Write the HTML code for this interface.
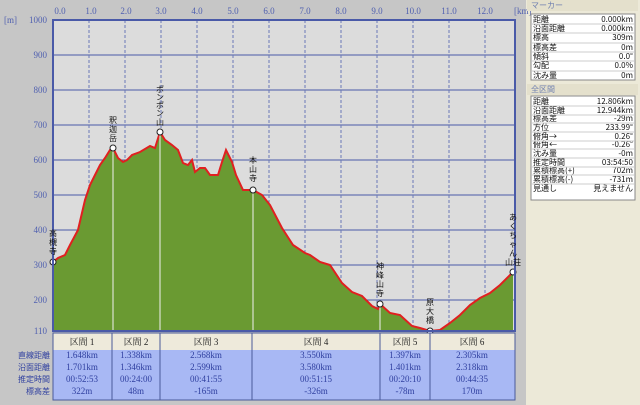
<!DOCTYPE html>
<html><head><meta charset="utf-8"><style>
body{margin:0;width:640px;height:405px;overflow:hidden;background:#c6c6c6;font-family:"Liberation Serif","Noto Serif CJK SC",serif;}
</style></head><body>
<svg width="640" height="405" xmlns="http://www.w3.org/2000/svg" style="position:absolute;left:0;top:0">
<rect x="0" y="0" width="640" height="405" fill="#c6c6c6"/>
<rect x="526" y="0" width="114" height="405" fill="#ece9d8"/>
<rect x="53" y="20" width="462" height="311" fill="#dcdcdc"/>
<g stroke="#4a5aa8" stroke-width="1">
<line x1="53" y1="55" x2="515" y2="55"/><line x1="53" y1="90" x2="515" y2="90"/><line x1="53" y1="125" x2="515" y2="125"/><line x1="53" y1="160" x2="515" y2="160"/><line x1="53" y1="195" x2="515" y2="195"/><line x1="53" y1="230" x2="515" y2="230"/><line x1="53" y1="265" x2="515" y2="265"/><line x1="53" y1="300" x2="515" y2="300"/>
</g>
<g stroke="#6a78b8" stroke-width="1" stroke-dasharray="3,2">
<line x1="89" y1="20" x2="89" y2="331"/><line x1="125" y1="20" x2="125" y2="331"/><line x1="161" y1="20" x2="161" y2="331"/><line x1="197" y1="20" x2="197" y2="331"/><line x1="233" y1="20" x2="233" y2="331"/><line x1="269" y1="20" x2="269" y2="331"/><line x1="305" y1="20" x2="305" y2="331"/><line x1="341" y1="20" x2="341" y2="331"/><line x1="377" y1="20" x2="377" y2="331"/><line x1="413" y1="20" x2="413" y2="331"/><line x1="449" y1="20" x2="449" y2="331"/><line x1="485" y1="20" x2="485" y2="331"/>
</g>
<polygon fill="#6a9a32" points="53,262 58,258 65,255 70,245 78,230 85,200 90,185 95,175 100,165 105,158 110,150 113,148 118,158 123,162 127,160 132,155 140,152 150,146 155,148 160,132 165,140 172,145 178,150 183,163 188,165 192,160 195,172 200,168 205,168 210,175 218,175 222,162 226,150 232,162 236,175 243,190 253,190 262,195 270,205 282,228 293,245 305,253 310,255 320,262 330,265 342,283 352,292 362,296 372,306 378,309 380,304 390,313 400,315 412,326 420,328 430,331 440,330 450,323 460,315 470,305 480,298 490,293 500,285 513,272 513,331 53,331"/>
<polyline fill="none" stroke="#e02020" stroke-width="2" points="53,262 58,258 65,255 70,245 78,230 85,200 90,185 95,175 100,165 105,158 110,150 113,148 118,158 123,162 127,160 132,155 140,152 150,146 155,148 160,132 165,140 172,145 178,150 183,163 188,165 192,160 195,172 200,168 205,168 210,175 218,175 222,162 226,150 232,162 236,175 243,190 253,190 262,195 270,205 282,228 293,245 305,253 310,255 320,262 330,265 342,283 352,292 362,296 372,306 378,309 380,304 390,313 400,315 412,326 420,328 430,331 440,330 450,323 460,315 470,305 480,298 490,293 500,285 513,272"/>
<g stroke="#f0f0f0" stroke-width="1">
<line x1="113" y1="148" x2="113" y2="331"/><line x1="160" y1="132" x2="160" y2="331"/><line x1="253" y1="190" x2="253" y2="331"/><line x1="380" y1="304" x2="380" y2="331"/>
</g>
<g fill="#fff" stroke="#222" stroke-width="1">
<circle cx="53" cy="262" r="3"/><circle cx="113" cy="148" r="3"/><circle cx="160" cy="132" r="3"/><circle cx="253" cy="190" r="3"/><circle cx="380" cy="304" r="3"/><circle cx="430" cy="331" r="3"/><circle cx="513" cy="272" r="3"/>
</g>
<rect x="53" y="20" width="462" height="311" fill="none" stroke="#4a5aa8" stroke-width="2"/>
<g font-family="'Noto Sans CJK JP',sans-serif" font-size="8" fill="#111" text-anchor="middle">
<text x="53" y="236">高</text><text x="53" y="245">槻</text><text x="53" y="254">寺</text>
<text x="113" y="123">釈</text><text x="113" y="132">迦</text><text x="113" y="141">岳</text>
<text x="160" y="92">ポ</text><text x="160" y="100">ン</text><text x="160" y="108">ポ</text><text x="160" y="116">ン</text><text x="160" y="125">山</text>
<text x="253" y="163">本</text><text x="253" y="172">山</text><text x="253" y="181">寺</text>
<text x="380" y="269">神</text><text x="380" y="278">峰</text><text x="380" y="287">山</text><text x="380" y="296">寺</text>
<text x="430" y="305">原</text><text x="430" y="314">大</text><text x="430" y="323">橋</text>
<text x="513" y="220">あ</text><text x="513" y="229">く</text><text x="513" y="238">ち</text><text x="513" y="247">ゃ</text><text x="513" y="256">ん</text><text x="513" y="265">山荘</text>
</g>
<g font-size="9" fill="#5060b0" text-anchor="end">
<text x="47" y="23">1000</text><text x="47" y="58">900</text><text x="47" y="93">800</text><text x="47" y="128">700</text><text x="47" y="163">600</text><text x="47" y="198">500</text><text x="47" y="233">400</text><text x="47" y="268">300</text><text x="47" y="303">200</text><text x="47" y="334">110</text>
</g>
<text x="4" y="23" font-size="9" fill="#5060b0">[m]</text>
<text x="514" y="14" font-size="9" fill="#5060b0">[km]</text>
<g font-size="9" fill="#5060b0" text-anchor="middle">
<text x="60" y="14">0.0</text><text x="91" y="14">1.0</text><text x="126" y="14">2.0</text><text x="161" y="14">3.0</text><text x="197" y="14">4.0</text><text x="233" y="14">5.0</text><text x="269" y="14">6.0</text><text x="305" y="14">7.0</text><text x="341" y="14">8.0</text><text x="377" y="14">9.0</text><text x="413" y="14">10.0</text><text x="449" y="14">11.0</text><text x="485" y="14">12.0</text>
</g>
<rect x="53" y="333" width="462" height="17" fill="#eeeadb"/>
<rect x="53" y="350" width="462" height="50" fill="#a8b8f4"/>
<rect x="53" y="333" width="462" height="67" fill="none" stroke="#4a5a9a" stroke-width="1"/>
<g stroke="#4a5a9a" stroke-width="1">
<line x1="112" y1="333" x2="112" y2="400"/><line x1="160" y1="333" x2="160" y2="400"/><line x1="252" y1="333" x2="252" y2="400"/><line x1="380" y1="333" x2="380" y2="400"/><line x1="430" y1="333" x2="430" y2="400"/>
</g>
<g font-family="'Liberation Serif','Noto Serif CJK JP',serif" font-size="9" fill="#222" text-anchor="middle">
<text x="82" y="345">区間 1</text><text x="136" y="345">区間 2</text><text x="206" y="345">区間 3</text><text x="316" y="345">区間 4</text><text x="405" y="345">区間 5</text><text x="472" y="345">区間 6</text>
</g>
<g font-size="9" fill="#3040a0" text-anchor="middle">
<text x="82" y="358">1.648km</text><text x="82" y="370">1.701km</text><text x="82" y="382">00:52:53</text><text x="82" y="394">322m</text>
<text x="136" y="358">1.338km</text><text x="136" y="370">1.346km</text><text x="136" y="382">00:24:00</text><text x="136" y="394">48m</text>
<text x="206" y="358">2.568km</text><text x="206" y="370">2.599km</text><text x="206" y="382">00:41:55</text><text x="206" y="394">-165m</text>
<text x="316" y="358">3.550km</text><text x="316" y="370">3.580km</text><text x="316" y="382">00:51:15</text><text x="316" y="394">-326m</text>
<text x="405" y="358">1.397km</text><text x="405" y="370">1.401km</text><text x="405" y="382">00:20:10</text><text x="405" y="394">-78m</text>
<text x="472" y="358">2.305km</text><text x="472" y="370">2.318km</text><text x="472" y="382">00:44:35</text><text x="472" y="394">170m</text>
</g>
<g font-family="'Noto Sans CJK JP',sans-serif" font-size="8" fill="#3040a0" text-anchor="end">
<text x="50" y="358">直線距離</text><text x="50" y="370">沿面距離</text><text x="50" y="382">推定時間</text><text x="50" y="394">標高差</text>
</g>
<g font-family="'Noto Sans CJK JP',sans-serif" font-size="8">
<rect x="527" y="0" width="111" height="11" fill="#e4e0cc"/>
<text x="531" y="8" fill="#7080b0">マーカー</text>
<rect x="531" y="14" width="104" height="66" fill="#fff" stroke="#888"/>
<rect x="527" y="84" width="111" height="11" fill="#e4e0cc"/>
<text x="531" y="92" fill="#7080b0">全区間</text>
<rect x="531" y="96" width="104" height="104" fill="#fff" stroke="#888"/>
<g fill="#111">
<text x="533" y="22">距離</text><text x="533" y="31">沿面距離</text><text x="533" y="40">標高</text><text x="533" y="50">標高差</text><text x="533" y="59">傾斜</text><text x="533" y="68">勾配</text><text x="533" y="78">沈み量</text>
<text x="533" y="104">距離</text><text x="533" y="113">沿面距離</text><text x="533" y="121">標高差</text><text x="533" y="130">方位</text><text x="533" y="139">俯角→</text><text x="533" y="147">俯角←</text><text x="533" y="156">沈み量</text><text x="533" y="165">推定時間</text><text x="533" y="173">累積標高(+)</text><text x="533" y="182">累積標高(-)</text><text x="533" y="191">見通し</text>
</g>
<g fill="#111" text-anchor="end">
<text x="633" y="22">0.000km</text><text x="633" y="31">0.000km</text><text x="633" y="40">309m</text><text x="633" y="50">0m</text><text x="633" y="59">0.0°</text><text x="633" y="68">0.0%</text><text x="633" y="78">0m</text>
<text x="633" y="104">12.806km</text><text x="633" y="113">12.944km</text><text x="633" y="121">-29m</text><text x="633" y="130">233.99°</text><text x="633" y="139">0.26°</text><text x="633" y="147">-0.26°</text><text x="633" y="156">-0m</text><text x="633" y="165">03:54:50</text><text x="633" y="173">702m</text><text x="633" y="182">-731m</text><text x="633" y="191">見えません</text>
</g>
<g stroke="#ccc"><line x1="532" y1="24" x2="634" y2="24"/><line x1="532" y1="33" x2="634" y2="33"/><line x1="532" y1="43" x2="634" y2="43"/><line x1="532" y1="52" x2="634" y2="52"/><line x1="532" y1="61" x2="634" y2="61"/><line x1="532" y1="71" x2="634" y2="71"/>
<line x1="532" y1="106" x2="634" y2="106"/><line x1="532" y1="115" x2="634" y2="115"/><line x1="532" y1="123" x2="634" y2="123"/><line x1="532" y1="132" x2="634" y2="132"/><line x1="532" y1="141" x2="634" y2="141"/><line x1="532" y1="149" x2="634" y2="149"/><line x1="532" y1="158" x2="634" y2="158"/><line x1="532" y1="167" x2="634" y2="167"/><line x1="532" y1="175" x2="634" y2="175"/><line x1="532" y1="184" x2="634" y2="184"/></g>
</g>
</svg>
</body></html>
